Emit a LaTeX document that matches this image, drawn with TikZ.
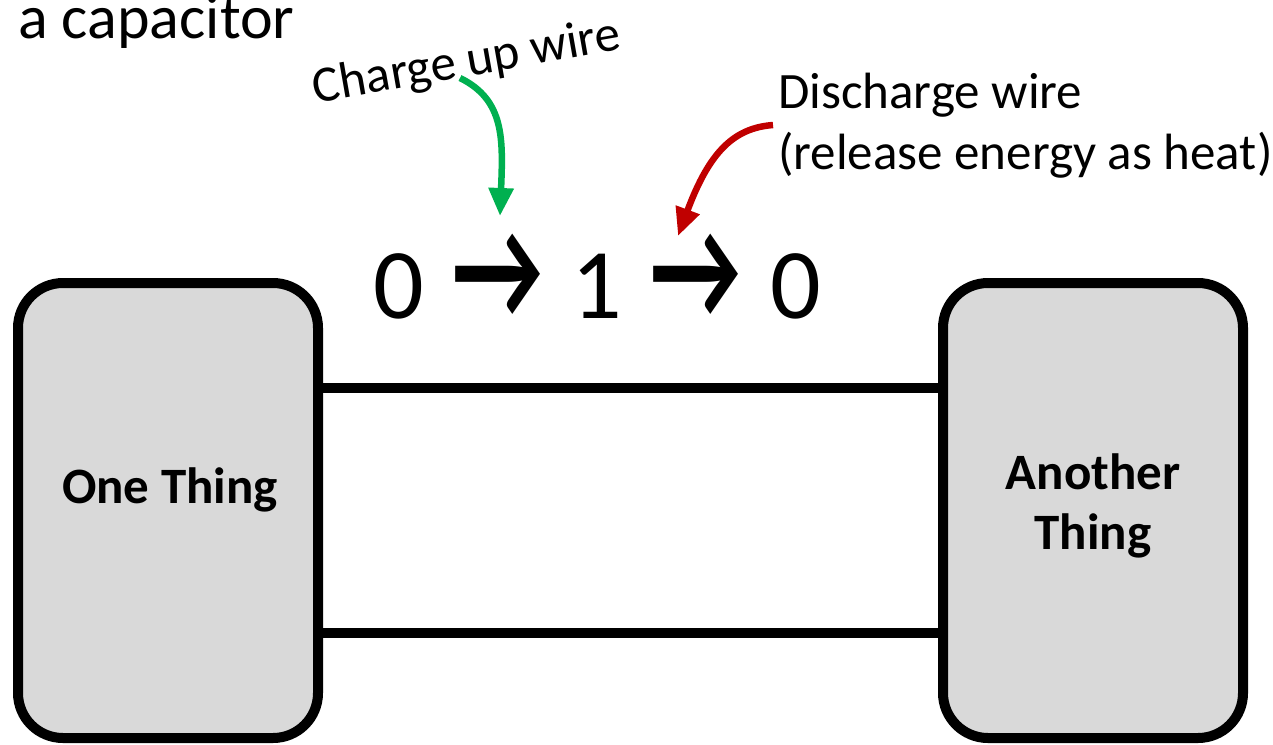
\documentclass[tikz,border=0pt]{standalone}
\usepackage{fontspec}
\setmainfont{Carlito}
\usetikzlibrary{arrows.meta}
\newcommand{\seqarrow}{\hspace{6pt}\scalebox{1}[1.45]{\bfseries →}\hspace{6pt}}
\begin{document}
\begin{tikzpicture}[x=1pt,y=-1pt,
  thing/.style={draw=black, line width=10pt, fill=boxgray, rounded corners=45pt,
    minimum width=300pt, minimum height=455pt, inner sep=0pt},
  wire/.style={line width=10pt, draw=black},
  bigtxt/.style={font=\fontsize{51}{60}\selectfont\bfseries, align=center, inner sep=0pt},
  lbl/.style={font=\fontsize{51}{61}\selectfont, inner sep=0pt, align=left},
  pointer/.style={line width=6.5pt, -{Triangle[length=28pt,width=24pt]}}]
\definecolor{boxgray}{HTML}{D9D9D9}
\definecolor{chargegreen}{HTML}{00B050}
\definecolor{dischargered}{HTML}{C00000}
\useasboundingbox (0,0) rectangle (1273,744);

\node[thing] (one) at (168,510.5) {};
\node[thing] (two) at (1093,510.5) {};
\node[bigtxt] (onetxt) at (170,490) {One Thing};
\node[bigtxt] (twotxt) at (1093,506) {Another\\Thing};

\draw[wire] (one.east |- 0,388) -- (two.west |- 0,388);
\draw[wire] (one.east |- 0,633) -- (two.west |- 0,633);

\node[font=\fontsize{62}{74}\selectfont, anchor=base west, inner sep=0pt] (title) at (18,38) {a capacitor};

\node[font=\fontsize{100}{120}\selectfont, inner sep=0pt, anchor=base] (seq) at (597,318) {0 \seqarrow{} 1 \seqarrow{} 0};

\node[lbl, rotate=10] (charge) at (467,63) {Charge up wire};
\node[lbl, anchor=north west] (discharge) at (778,73) {Discharge wire\\(release energy as heat)};

\coordinate (gs) at (460,78);
\coordinate (ge) at (500,216);
\coordinate (rs) at (773,125);
\coordinate (re) at (678,236);
\draw[pointer, chargegreen] (gs) .. controls (505,100) and (503,140) .. (ge);
\draw[pointer, dischargered] (rs) .. controls (735,128) and (710,150) .. (re);
\end{tikzpicture}
\end{document}
